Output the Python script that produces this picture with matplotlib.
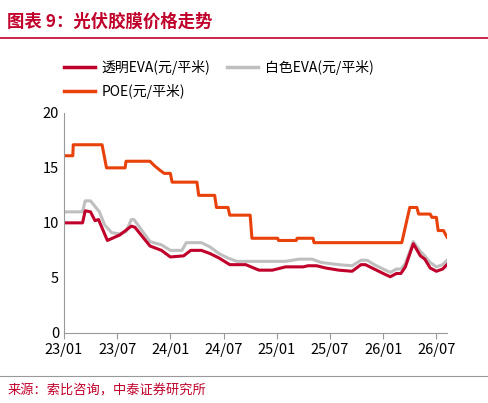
import matplotlib
matplotlib.use("Agg")
import matplotlib.pyplot as plt
from matplotlib.lines import Line2D

plt.rcParams['font.family'] = ['Noto Sans CJK SC', 'DejaVu Sans']

tick_labels = ["23/01", "23/07", "24/01", "24/07", "25/01", "25/07", "26/01", "26/07"]
tick_months = [0, 6, 12, 18, 24, 30, 36, 42]

poe_m = [0, 1.0, 1.05, 4.3, 4.8, 6.9, 7.0, 9.7, 10.2, 10.8, 11.3, 12.0, 12.2, 15.0, 15.2, 17.0, 17.2, 18.5, 18.7,
         21.0, 21.2, 24.1, 24.2, 26.2, 26.3, 28.1, 28.2, 38.1, 39.0, 39.8, 40.0, 41.3, 41.5, 42.0, 42.2, 42.8, 43.2]
poe_v = [16.1, 16.1, 17.1, 17.1, 15.0, 15.0, 15.6, 15.6, 15.2, 14.8, 14.5, 14.5, 13.7, 13.7, 12.5, 12.5, 11.4, 11.4, 10.7,
         10.7, 8.6, 8.6, 8.4, 8.4, 8.6, 8.6, 8.2, 8.2, 11.4, 11.4, 10.8, 10.8, 10.5, 10.5, 9.3, 9.3, 8.7]

tr_m = [0, 2.1, 2.4, 3.0, 3.5, 3.9, 4.9, 6.3, 7.6, 8.0, 9.7, 11, 12, 13.5, 14.3, 15.5, 16.5, 17.5, 18.7, 20.5, 22, 23.5,
        24.5, 25, 27, 27.5, 28.5, 29.5, 31, 32.5, 33.5, 34, 35, 36, 36.8, 37.5, 38, 38.5, 39.4, 40.2, 40.7, 41.3, 42, 42.7, 43.2]
tr_v = [10.0, 10.0, 11.1, 11.0, 10.2, 10.3, 8.4, 8.9, 9.7, 9.6, 7.9, 7.5, 6.9, 7.0, 7.5, 7.5, 7.2, 6.8, 6.2, 6.2, 5.7, 5.7,
        5.9, 6.0, 6.0, 6.1, 6.1, 5.9, 5.7, 5.6, 6.2, 6.2, 5.8, 5.4, 5.1, 5.4, 5.4, 6.0, 8.1, 7.0, 6.7, 5.9, 5.6, 5.8, 6.2]

wh_m = [0, 2.1, 2.4, 3.0, 3.5, 4, 4.6, 5.4, 6.3, 7, 7.6, 7.9, 8.8, 9.7, 11, 12, 13.3, 13.8, 15.5, 16.5, 17.5, 18.5, 19.5,
        23.5, 25, 26.5, 28, 29, 31, 32.5, 33.5, 34.2, 35, 36, 36.8, 37.5, 38, 38.5, 39.4, 40.2, 40.7, 41.3, 42, 42.7, 43.2]
wh_v = [11.0, 11.0, 12.0, 12.0, 11.5, 11.0, 9.8, 9.1, 9.0, 9.2, 10.3, 10.3, 9.3, 8.3, 8.0, 7.5, 7.5, 8.2, 8.2, 7.8, 7.2, 6.8,
        6.5, 6.5, 6.5, 6.7, 6.7, 6.4, 6.2, 6.1, 6.6, 6.6, 6.2, 5.8, 5.5, 5.8, 5.8, 6.3, 8.3, 7.4, 7.0, 6.4, 6.0, 6.2, 6.6]

c_tr, c_wh, c_poe = "#C0002A", "#BFBFBF", "#E8410A"

fig = plt.figure(figsize=(4.88, 4.03), dpi=100)
ax = fig.add_axes([0.131, 0.174, 0.785, 0.546])
ax.plot(wh_m, wh_v, color=c_wh, lw=2.2)
ax.plot(tr_m, tr_v, color=c_tr, lw=2.2)
ax.plot(poe_m, poe_v, color=c_poe, lw=2.2)
ax.set_xlim(0, 43.2)
ax.set_ylim(0, 20)
ax.set_yticks([0, 5, 10, 15, 20])
ax.set_xticks(tick_months)
ax.set_xticklabels(tick_labels)
for s in ["top", "right"]:
    ax.spines[s].set_visible(False)
for s in ["left", "bottom"]:
    ax.spines[s].set_color("#999999")
ax.tick_params(axis="both", colors="#999999", labelcolor="black", labelsize=10.5)
ax.tick_params(axis="x", length=4, direction="out")
ax.tick_params(axis="y", length=0)

fig.text(0.015, 0.935, "图表 9：光伏胶膜价格走势", color="#C0002A", fontsize=12.5, fontweight="bold", style="italic")
fig.add_artist(Line2D([0.0, 1.0], [0.905, 0.905], color="#C0002A", lw=1.2))
fig.add_artist(Line2D([0.0, 1.0], [0.067, 0.067], color="#999999", lw=0.8))
fig.text(0.015, 0.022, "来源：索比咨询，中泰证券研究所", color="#C0002A", fontsize=9.5)

handles = [Line2D([], [], color=c_tr, lw=2.5), Line2D([], [], color=c_wh, lw=2.5), Line2D([], [], color=c_poe, lw=2.5)]
fig.legend(handles[:2], ["透明EVA(元/平米)", "白色EVA(元/平米)"], loc="upper left", bbox_to_anchor=(0.12, 0.865),
           ncol=2, frameon=False, fontsize=10, handlelength=2.2, columnspacing=1.2, borderaxespad=0, handletextpad=0.5)
fig.legend(handles[2:], ["POE(元/平米)"], loc="upper left", bbox_to_anchor=(0.12, 0.805),
           frameon=False, fontsize=10, handlelength=2.2, borderaxespad=0, handletextpad=0.5)
fig.savefig("out.png", dpi=100)
